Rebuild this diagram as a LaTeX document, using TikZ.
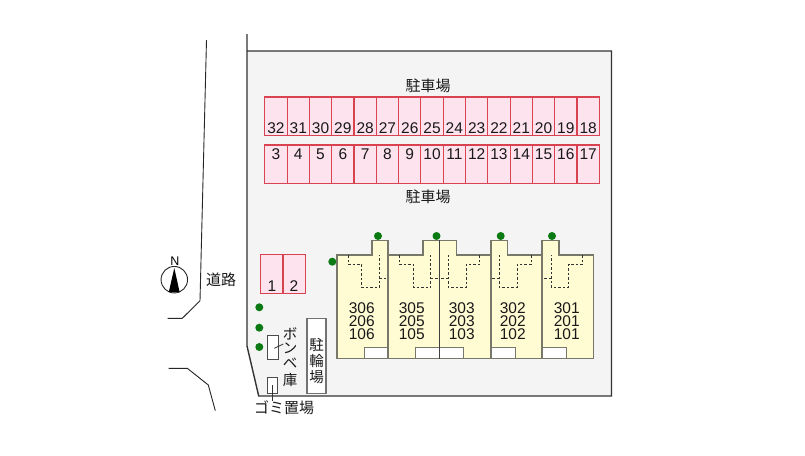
\documentclass[tikz,border=0pt]{standalone}
\usepackage{fontspec}
\setmainfont{Liberation Sans}
\newfontfamily\jpfont{Noto Sans CJK JP}[Scale=1]
\usetikzlibrary{calc}
\definecolor{siteg}{HTML}{F4F4F4}
\definecolor{pinkf}{HTML}{FDE3EE}
\definecolor{pinkd}{HTML}{D9434F}
\definecolor{bldf}{HTML}{FFFBD2}
\definecolor{bldd}{HTML}{77776A}
\definecolor{dotg}{HTML}{0B7A12}
\tikzset{
  x=1pt,y=-1pt,
  lot/.style={draw=pinkd,fill=pinkf,line width=1.1pt,minimum width=22.3pt,minimum height=38.3pt,inner sep=0pt,outer sep=0pt},
  lotnum/.style={font=\fontsize{15.5}{15.5}\selectfont,text=black!90,inner sep=0pt},
  wall/.style={draw=bldd,line width=1.6pt},
  dashline/.style={draw=black!80,line width=0.8pt,dash pattern=on 2.5pt off 2pt},
  tree/.style={circle,fill=dotg,minimum size=8pt,inner sep=0pt},
  jp/.style={font=\jpfont\fontsize{15}{15}\selectfont,text=black!90,inner sep=0pt},
  vjp/.style={font=\jpfont\fontsize{14.5}{14.5}\selectfont,text=black!90,inner sep=0pt},
  unum/.style={font=\fontsize{15.5}{13}\selectfont,align=center,text=black!90,inner sep=0pt},
  whitebox/.style={draw=bldd,fill=white,line width=0.9pt},
  sitebox/.style={draw=black!70,fill=white,line width=1pt,inner sep=0pt,outer sep=0pt},
  roadline/.style={draw=black!85,line width=0.9pt},
}
\begin{document}
\begin{tikzpicture}
\useasboundingbox (0,0) rectangle (805,455);
% site
\fill[white] (0,0) rectangle (805,455);
\fill[siteg] (247,51) -- (611.5,51) -- (611.5,396) -- (258.7,396) -- (247,346) -- cycle;
\draw[draw=black!80,line width=1.4pt] (247,34) -- (247,51) -- (247,346) -- (258.7,396) -- (611.5,396) -- (611.5,51) -- (247,51);
% road
\draw[roadline] (206.5,40) -- (200,300.7) -- (182.3,318.3) -- (167.7,318.3);
\draw[roadline] (168.7,368.3) -- (187.3,368.3) -- (208.3,385) -- (215.3,410.7);
% parking upper rows
\foreach \n [count=\i from 0] in {32,31,...,18} {
  \node[lot,anchor=north west] (u\n) at ({264.8+22.3*\i},97) {};
  \node[lotnum] (ut\n) at ($(u\n.north)+(0,31.5)$) {\n};
}
\foreach \n [count=\i from 0] in {3,4,...,17} {
  \node[lot,anchor=north west] (l\n) at ({264.8+22.3*\i},145) {};
  \node[lotnum] (lt\n) at ($(l\n.north)+(0,9)$) {\n};
}
\node[lot,anchor=north west,minimum height=38.6pt] (p1) at (260.7,254.7) {};
\node[lot,anchor=north west,minimum height=38.6pt] (p2) at (283,254.7) {};
\node[lotnum] (pt1) at (272,286.5) {1};
\node[lotnum] (pt2) at (294,286.5) {2};
\node[jp] (lab1) at (428,86) {駐車場};
\node[jp] (lab2) at (428,197) {駐車場};
\node[jp] (roadname) at (221,279.5) {道路};
% building
\fill[bldf] (337,358.5) -- (337,255) -- (371.7,255) -- (371.7,240.3) -- (388,240.3) -- (388,255) -- (422.7,255) -- (422.7,240.3) -- (456.3,240.3) -- (456.3,255) -- (490.7,255) -- (490.7,240.3) -- (507.3,240.3) -- (507.3,255) -- (542,255) -- (542,240.3) -- (559,240.3) -- (559,255) -- (593.3,255) -- (593.3,358.5) -- cycle;
\draw[whitebox] (364,347.5) rectangle (388,358.5);
\draw[whitebox] (415.3,347.5) rectangle (439.4,358.5);
\draw[whitebox] (439.4,347.5) rectangle (463.7,358.5);
\draw[whitebox] (491,347.5) rectangle (515.3,358.5);
\draw[whitebox] (542.2,347.5) rectangle (566.7,358.5);
\draw[wall] (337,358.5) -- (337,255) -- (371.7,255) -- (371.7,240.3) -- (388,240.3) -- (388,255) -- (422.7,255) -- (422.7,240.3) -- (456.3,240.3) -- (456.3,255) -- (490.7,255) -- (490.7,240.3) -- (507.3,240.3) -- (507.3,255) -- (542,255) -- (542,240.3) -- (559,240.3) -- (559,255) -- (593.3,255) -- (593.3,358.5) -- cycle;
\draw[wall] (388,255) -- (388,358.5);
\draw[draw=black!75,line width=0.9pt] (439.4,240.3) -- (439.4,358.5);
\draw[wall] (490.7,255) -- (490.7,358.5);
\draw[wall] (542,255) -- (542,358.5);
% dashed interiors
\draw[dashline] (348.3,255) -- (348.3,264.3) -- (361.7,264.3) -- (361.7,287.3) -- (379.3,287.3) -- (379.3,255);
\draw[dashline] (379.3,278.3) -- (388,278.3);
\draw[dashline] (399.3,255) -- (399.3,264.3) -- (413.3,264.3) -- (413.3,287.3) -- (430.7,287.3) -- (430.7,255);
\draw[dashline] (430.7,278.3) -- (439.4,278.3);
\draw[dashline] (479.7,255) -- (479.7,264.3) -- (466,264.3) -- (466,287.3) -- (448.3,287.3) -- (448.3,255);
\draw[dashline] (448.3,278.3) -- (439.4,278.3);
\draw[dashline] (531,255) -- (531,264.3) -- (517.3,264.3) -- (517.3,287.3) -- (499.3,287.3) -- (499.3,255);
\draw[dashline] (499.3,278.3) -- (490.7,278.3);
\draw[dashline] (582.3,255) -- (582.3,264.3) -- (568.7,264.3) -- (568.7,287.3) -- (551,287.3) -- (551,255);
\draw[dashline] (551,278.3) -- (542,278.3);
% unit numbers
\node[unum] (u6) at (361.7,321.3) {306\\206\\106};
\node[unum] (u5) at (411.7,321.3) {305\\205\\105};
\node[unum] (u3) at (461.7,321.3) {303\\203\\103};
\node[unum] (u2) at (512.7,321.3) {302\\202\\102};
\node[unum] (u1) at (566.7,321.3) {301\\201\\101};
% trees
\foreach \nm/\px/\py in {a/378/236,b/436.5/236,c/500.7/236,d/552/236,e/332.3/261.7,f/259.3/307.3,g/259.3/327.7,h/259.3/347}
  \node[tree] (t\nm) at (\px,\py) {};
% small structures
\node[sitebox,anchor=north west,minimum width=10.7pt,minimum height=24pt] (bombe) at (267.7,335.3) {};
\node[sitebox,anchor=north west,minimum width=10.7pt,minimum height=16.7pt] (gomi) at (267,377) {};
\node[sitebox,draw=black!55,line width=1.3pt,anchor=north west,minimum width=19pt,minimum height=75pt] (bike) at (307,318.7) {};
\node[vjp] (b1) at (316.5,345) {駐};
\node[vjp] (b2) at (316.5,361) {輪};
\node[vjp] (b3) at (316.5,377) {場};
\node[vjp] (c1) at (290,334) {ボ};
\node[vjp] (c2) at (290,348.3) {ン};
\node[vjp] (c3) at (290,363.3) {ベ};
\node[vjp] (c4) at (290,380) {庫};
\node[jp] (gomil) at (284,407.7) {ゴミ置場};
\coordinate (ba) at (274.3,348.3);
\coordinate (bb) at (283.3,344);
\draw[draw=black!80,line width=0.8pt] (ba) -- (bb);
\coordinate (ga) at (272,385);
\coordinate (gb) at (272,400.5);
\draw[draw=black!80,line width=0.8pt] (ga) -- (gb);
% compass
\node[draw=black!85,fill=white,circle,minimum size=26.5pt,line width=0.9pt,inner sep=0pt] (comp) at (174.3,279.7) {};
\fill[black] (174.3,268) -- (168.8,292) -- (179.6,292) -- cycle;
\node[font=\fontsize{12.5}{12.5}\selectfont,inner sep=0pt] (north) at (175,261.5) {N};
\end{tikzpicture}
\end{document}
